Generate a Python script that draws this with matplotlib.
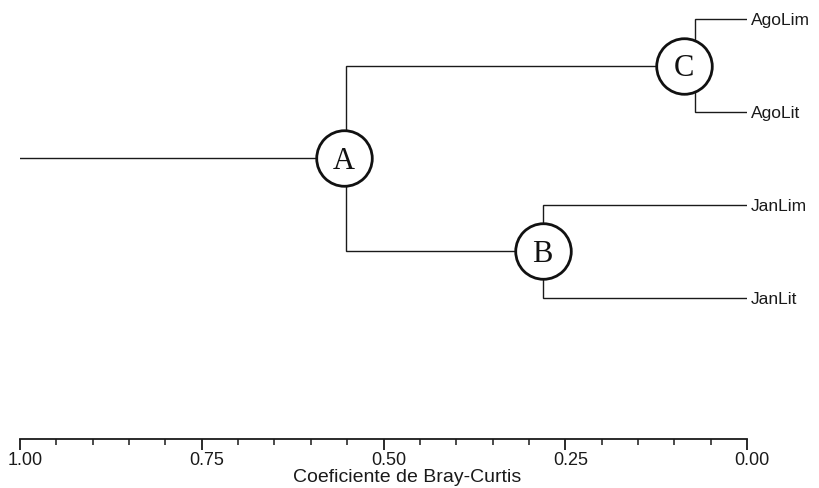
import matplotlib
matplotlib.use("Agg")
import matplotlib.pyplot as plt
import matplotlib.transforms as mtransforms
from matplotlib.ticker import MultipleLocator

# leaves, top to bottom
leaves = ["AgoLim", "AgoLit", "JanLim", "JanLit"]

# clusters: name, left child, right child, Bray-Curtis level
clusters = [
    ("C", "AgoLim", "AgoLit", 0.072),
    ("B", "JanLim", "JanLit", 0.281),
    ("A", "C", "B", 0.552),
]
root_start = 1.00

# where the lettered circles sit (C is drawn a little left of its node)
circle_x = {"A": 0.555, "B": 0.281, "C": 0.087}

major_ticks = [1.00, 0.75, 0.50, 0.25, 0.00]
xlabel = "Coeficiente de Bray-Curtis"

plt.rcParams["font.family"] = ["Liberation Sans", "DejaVu Sans"]

fig = plt.figure(figsize=(8.19, 4.88), dpi=100)
ax = fig.add_axes([20 / 819, 49 / 488, 727 / 819, 439 / 488])

pos = {name: (0.0, float(i)) for i, name in enumerate(leaves)}
lw = 1.0
for name, a, b, h in clusters:
    xa, ya = pos[a]
    xb, yb = pos[b]
    ax.plot([xa, h, h, xb], [ya, ya, yb, yb], color="#1a1a1a", lw=lw,
            solid_joinstyle="miter", zorder=1)
    pos[name] = (h, (ya + yb) / 2)

top_name = clusters[-1][0]
ax.plot([root_start, pos[top_name][0]], [pos[top_name][1]] * 2,
        color="#1a1a1a", lw=lw, zorder=1)

for name, _, _, _ in clusters:
    cx = circle_x[name]
    cy = pos[name][1]
    ax.plot(cx, cy, "o", ms=40, mfc="white", mec="#111111", mew=2.0, zorder=2)
    ax.text(cx, cy + 0.03, name, ha="center", va="center", fontsize=22,
            family="Liberation Serif", color="#111111", zorder=3)

for i, name in enumerate(leaves):
    ax.text(-0.005, i + 0.015, name, ha="left", va="center", fontsize=12.5,
            color="#1a1a1a")

ax.set_xlim(1.0, 0.0)
ax.set_ylim((439 - 19) / 93, -19 / 93)

for s in ["top", "left", "right"]:
    ax.spines[s].set_visible(False)
ax.spines["bottom"].set_linewidth(1.3)
ax.spines["bottom"].set_color("#1a1a1a")
ax.set_yticks([])
ax.set_xticks(major_ticks)
ax.set_xticklabels([f"{v:.2f}" for v in major_ticks])
ax.xaxis.set_minor_locator(MultipleLocator(0.05))
ax.tick_params(axis="x", which="major", length=8, width=1.3, pad=1.5,
               labelsize=13, color="#1a1a1a", labelcolor="#1a1a1a")
ax.tick_params(axis="x", which="minor", length=4.3, width=1.1, color="#1a1a1a")

# labels sit a few pixels right of their ticks in the original
shift = mtransforms.ScaledTranslation(5 / 100, 0, fig.dpi_scale_trans)
for lab in ax.get_xticklabels():
    lab.set_transform(lab.get_transform() + shift)

ax.set_xlabel(xlabel, fontsize=14, color="#1a1a1a")
ax.xaxis.set_label_coords((407 - 20) / 727, (439 - 469) / 439)

fig.savefig("out.png", dpi=100)
